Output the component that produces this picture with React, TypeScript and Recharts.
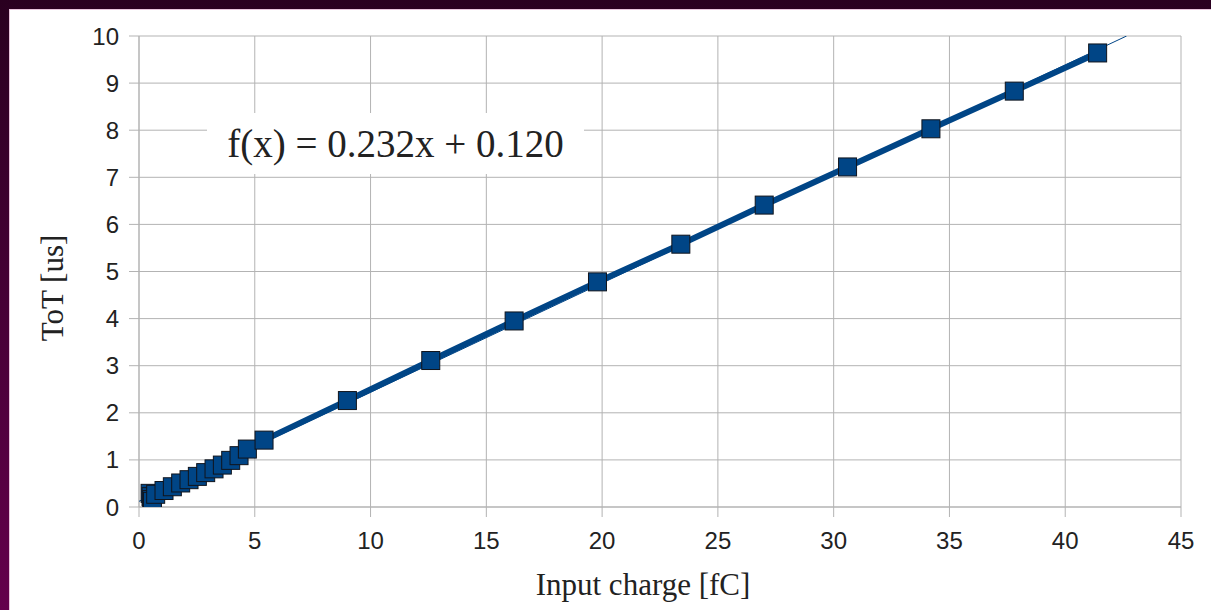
import { ScatterChart, Scatter, XAxis, YAxis, CartesianGrid, Label } from 'recharts';

// measured points (input charge in fC, ToT in us)
const chargeFc = [
  0.48, 0.52, 0.55, 0.58, 0.72, 1.08, 1.44, 1.8, 2.16, 2.52, 2.88, 3.24, 3.6, 3.96, 4.32, 4.68,
  5.4, 9.0, 12.6, 16.2, 19.8, 23.4, 27.0, 30.6, 34.2, 37.8, 41.4,
];
const totUs = [
  0.29, 0.22, 0.16, 0.12, 0.27, 0.35, 0.43, 0.51, 0.58, 0.65, 0.73, 0.81, 0.89, 0.99, 1.09, 1.23,
  1.42, 2.26, 3.11, 3.95, 4.78, 5.58, 6.41, 7.22, 8.03, 8.83, 9.64,
];

// linear fit endpoints as seen on the chart (clipped at the top of the plot)
const trendX = [0, 42.65];
const trendY = [0.12, 10];

const xTicks = [0, 5, 10, 15, 20, 25, 30, 35, 40, 45];
const yTicks = [0, 1, 2, 3, 4, 5, 6, 7, 8, 9, 10];

const fitText = 'f(x) = 0.232x + 0.120';

const BLUE = '#004586';
const GRID = '#b3b3b3';

const points = chargeFc.map((x, i) => ({ x, y: totUs[i] }));
const trend = trendX.map((x, i) => ({ x, y: trendY[i] }));

const Square = (p: any) => (
  <rect x={p.cx - 9} y={p.cy - 9} width={18} height={18} fill={BLUE} stroke="#10141c" strokeWidth={1} />
);

export default function App() {
  return (
    <div
      style={{
        position: 'fixed',
        left: 0,
        top: 0,
        width: 1211,
        height: 610,
        background: 'linear-gradient(to bottom, #2a0020, #64004c)',
      }}
    >
      <div
        style={{
          position: 'absolute',
          left: 9,
          top: 9,
          width: 1202,
          height: 601,
          background: '#fff',
          borderLeft: '1px solid #e8c4dc',
          borderTop: '1px solid #e8c4dc',
          boxSizing: 'border-box',
        }}
      />
      <div style={{ position: 'absolute', left: 0, top: 0 }}>
        <ScatterChart width={1211} height={610} margin={{ top: 36, right: 30, bottom: 0, left: 0 }}>
          <CartesianGrid stroke={GRID} strokeWidth={1} />
          <XAxis
            type="number"
            dataKey="x"
            domain={[0, 45]}
            ticks={xTicks}
            allowDataOverflow
            height={103}
            stroke={GRID}
            tickSize={10}
            tickMargin={15}
            tick={{ fill: '#222', fontSize: 24, fontFamily: 'Liberation Sans, Arial, sans-serif' }}
          >
            <Label
              content={() => (
                <text
                  x={643}
                  y={595}
                  textAnchor="middle"
                  fill="#222"
                  fontSize={31}
                  fontFamily="Liberation Serif, Times New Roman, serif"
                >
                  Input charge [fC]
                </text>
              )}
            />
          </XAxis>
          <YAxis
            type="number"
            dataKey="y"
            domain={[0, 10]}
            ticks={yTicks}
            allowDataOverflow
            width={139}
            stroke={GRID}
            tickSize={10}
            tickMargin={10}
            tick={{ fill: '#222', fontSize: 24, fontFamily: 'Liberation Sans, Arial, sans-serif' }}
          >
            <Label
              content={() => (
                <text
                  x={0}
                  y={0}
                  transform="translate(63 288) rotate(-90)"
                  textAnchor="middle"
                  fill="#222"
                  fontSize={31}
                  fontFamily="Liberation Serif, Times New Roman, serif"
                >
                  ToT [us]
                </text>
              )}
            />
          </YAxis>
          <Scatter
            data={trend}
            line={{ stroke: BLUE, strokeWidth: 1 }}
            shape={() => <g />}
            isAnimationActive={false}
          />
          <Scatter
            data={points}
            line={{ stroke: BLUE, strokeWidth: 6 }}
            shape={Square}
            isAnimationActive={false}
          />
        </ScatterChart>
      </div>
      <div
        style={{
          position: 'absolute',
          left: 207,
          top: 113,
          width: 377,
          height: 61,
          background: '#fff',
          fontFamily: 'Liberation Serif, Times New Roman, serif',
          fontSize: 39,
          color: '#222',
          lineHeight: '61px',
          textAlign: 'center',
          whiteSpace: 'nowrap',
        }}
      >
        {fitText}
      </div>
    </div>
  );
}
